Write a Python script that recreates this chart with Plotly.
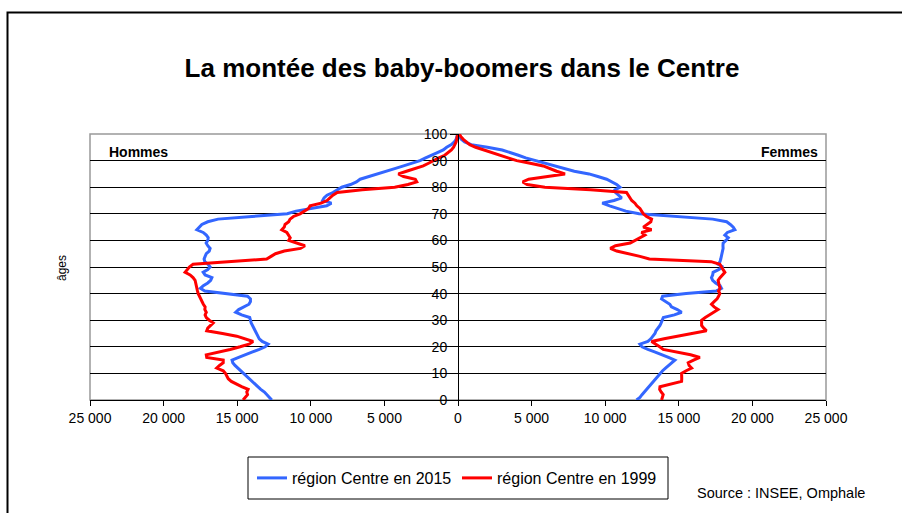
import plotly.graph_objects as go

ages = list(range(0, 101))

# Hommes (men) per single year of age
men_2015 = [12650, 12800, 13000, 13150, 13400, 13600, 13800, 14000, 14200, 14400,
            14600, 14800, 15000, 15150, 15300, 15350, 14900, 14500, 14000, 13500,
            13100, 12900, 13300, 13500, 13600, 13700, 13800, 13900, 14000, 14050,
            14100, 14150, 14700, 15100, 14900, 14500, 14200, 14100, 14100, 14300,
            15800, 17200, 17500, 17300, 17000, 16800, 16720, 17180, 17310, 17000,
            16840, 16980, 17200, 17250, 17180, 17100, 16900, 16840, 17000, 17110,
            17000, 16970, 17100, 17310, 17740, 17600, 17400, 17000, 16300, 14000,
            11600, 11000, 10050, 8920, 8600, 9200, 9100, 8900, 8500, 8240,
            7900, 7300, 6900, 6650, 6100, 5520, 4900, 4300, 3700, 3100,
            2580, 2200, 1850, 1400, 1000, 770, 450, 250, 130, 60, 20]

men_1999 = [14600, 14450, 14300, 14350, 14260, 14700, 15030, 15400, 15610, 15700,
            15800, 15950, 16390, 16200, 15950, 15950, 17070, 17100, 16200, 15480,
            14800, 14200, 13920, 14500, 15030, 16000, 17070, 17000, 16800, 16630,
            16900, 17100, 17180, 17100, 17200, 17180, 17300, 17400, 17450, 17550,
            17650, 17700, 17740, 17800, 17850, 17860, 18000, 18200, 18540, 18400,
            18250, 18000, 15500, 13000, 12700, 12400, 11800, 10700, 10400, 10950,
            11500, 11400, 11500, 11630, 11970, 11800, 11750, 11500, 11410, 11180,
            10730, 10400, 10150, 10050, 9300, 8900, 8700, 8500, 8200, 6500,
            4300, 3400, 2800, 2900, 3700, 4050, 3500, 2900, 2360, 2000,
            1680, 1300, 900, 650, 450, 300, 200, 130, 90, 50, 20]

# Femmes (women) per single year of age
women_2015 = [12130, 12360, 12500, 12650, 12800, 12950, 13100, 13250, 13400, 13550,
              13720, 13900, 14100, 14300, 14500, 14730, 14300, 13900, 13400, 12900,
              12500, 12360, 12900, 13100, 13250, 13380, 13450, 13600, 13720, 13800,
              13900, 13950, 14700, 15190, 14900, 14500, 14390, 14100, 13830, 13900,
              15500, 17560, 17900, 17800, 17500, 17300, 17220, 17300, 17330, 17700,
              18010, 17670, 17800, 17850, 17900, 17900, 17950, 18010, 18000, 18010,
              18200, 18360, 18130, 18300, 18810, 18700, 18500, 18250, 17300, 14500,
              12300, 11400, 10780, 10300, 9800, 10600, 11120, 10900, 10700, 10660,
              11000, 10780, 10450, 10100, 9500, 8900, 7900, 7200, 6500, 5900,
              5200, 4600, 4100, 3600, 3000, 2000, 900, 450, 220, 100, 40]

women_1999 = [13830, 13900, 13940, 13800, 13700, 13720, 14500, 15190, 15200, 15190,
              15190, 15500, 15870, 15700, 15640, 16000, 16430, 15800, 14800, 13940,
              13700, 13400, 13150, 14000, 15000, 16000, 16880, 16700, 16550, 16550,
              16550, 16800, 17110, 17400, 17670, 17400, 17220, 17400, 17600, 17700,
              17790, 17700, 17800, 17750, 17700, 17670, 17800, 18000, 18130, 18010,
              17900, 17790, 17200, 13000, 12360, 11500, 10780, 10350, 10700, 11700,
              12020, 12300, 12700, 12470, 13150, 12590, 12810, 13100, 13150, 12810,
              12590, 12450, 12360, 12150, 12020, 11800, 11700, 11570, 11450, 9000,
              5900, 4700, 4400, 4800, 6100, 7270, 6700, 6200, 5790, 4900,
              3990, 3400, 2850, 2300, 1720, 1200, 800, 550, 360, 200, 80]

x_ticks = [-25000, -20000, -15000, -10000, -5000, 0, 5000, 10000, 15000, 20000, 25000]
x_ticktext = ["25 000", "20 000", "15 000", "10 000", "5 000", "0",
              "5 000", "10 000", "15 000", "20 000", "25 000"]
y_ticks = list(range(0, 101, 10))

BLUE = "#3366FF"
RED = "#FF0000"
FONT = "Arial, Liberation Sans, sans-serif"

fig = go.Figure()
fig.add_trace(go.Scatter(x=[-v for v in men_2015], y=ages, mode="lines",
                         line=dict(color=BLUE, width=3), name="région Centre en 2015",
                         legendgroup="2015", showlegend=True, hoverinfo="skip"))
fig.add_trace(go.Scatter(x=women_2015, y=ages, mode="lines",
                         line=dict(color=BLUE, width=3), name="région Centre en 2015",
                         legendgroup="2015", showlegend=False, hoverinfo="skip"))
fig.add_trace(go.Scatter(x=[-v for v in men_1999], y=ages, mode="lines",
                         line=dict(color=RED, width=3), name="région Centre en 1999",
                         legendgroup="1999", showlegend=True, hoverinfo="skip"))
fig.add_trace(go.Scatter(x=women_1999, y=ages, mode="lines",
                         line=dict(color=RED, width=3), name="région Centre en 1999",
                         legendgroup="1999", showlegend=False, hoverinfo="skip"))

W, H = 902, 513
L, R, T, B = 90, 826, 134, 400


def px(xp):
    return (xp - L) / (R - L)


def py(yp):
    return (B - yp) / (B - T)


fig.update_layout(
    width=W, height=H,
    margin=dict(l=L, r=W - R, t=T, b=H - B, pad=0),
    paper_bgcolor="white", plot_bgcolor="white",
    font=dict(family=FONT, color="black", size=14),
    title=dict(text="<b>La montée des baby-boomers dans le Centre</b>",
               font=dict(family=FONT, size=26, color="black"),
               xref="container", yref="container",
               x=462 / W, y=1 - 68 / H, xanchor="center", yanchor="middle"),
    xaxis=dict(range=[-25000, 25000], tickvals=x_ticks, ticktext=x_ticktext,
               showgrid=False, zeroline=False, showline=True, linecolor="black",
               linewidth=1, ticks="outside", ticklen=5, tickcolor="black",
               tickfont=dict(family=FONT, size=14, color="black"), fixedrange=True),
    yaxis=dict(range=[0, 100], tickvals=y_ticks, anchor="free", position=0.5,
               showgrid=True, gridcolor="black", gridwidth=1, zeroline=False,
               showline=True, linecolor="black", linewidth=1, ticks="outside",
               ticklen=8, tickcolor="black",
               tickfont=dict(family=FONT, size=14, color="black"), fixedrange=True),
    showlegend=True,
    legend=dict(orientation="h", x=px(252), xanchor="left", y=py(478), yanchor="middle",
                font=dict(family=FONT, size=16, color="black"),
                bgcolor="rgba(0,0,0,0)", borderwidth=0,
                entrywidth=160, entrywidthmode="pixels", traceorder="normal"),
    shapes=[
        dict(type="rect", xref="paper", yref="paper", x0=px(7.5), x1=px(940),
             y0=py(540), y1=py(12.5), line=dict(color="black", width=2), layer="below"),
        dict(type="rect", xref="paper", yref="paper", x0=0, x1=1, y0=0, y1=1,
             line=dict(color="#999999", width=1.5), layer="below"),
        dict(type="rect", xref="paper", yref="paper", x0=px(248), x1=px(668),
             y0=py(499), y1=py(457), line=dict(color="black", width=1), layer="below"),
    ],
    annotations=[
        dict(text="<b>Hommes</b>", xref="paper", yref="paper", x=px(107), y=py(152),
             xanchor="left", yanchor="middle", showarrow=False,
             font=dict(family=FONT, size=14, color="black")),
        dict(text="<b>Femmes</b>", xref="paper", yref="paper", x=px(820), y=py(152),
             xanchor="right", yanchor="middle", showarrow=False,
             font=dict(family=FONT, size=14, color="black")),
        dict(text="âges", xref="paper", yref="paper", x=px(62), y=py(268),
             xanchor="center", yanchor="middle", textangle=-90, showarrow=False,
             font=dict(family=FONT, size=12, color="black")),
        dict(text="Source : INSEE, Omphale", xref="paper", yref="paper", x=px(695),
             y=py(493), xanchor="left", yanchor="middle", showarrow=False,
             font=dict(family=FONT, size=14.5, color="black")),
    ],
)

# remove the page's default body margin so the figure sits at the window origin
fig.write_html("out.html",
               config={"displayModeBar": False, "staticPlot": True},
               post_script="document.body.style.margin='0';"
                           "document.body.style.overflow='hidden';")
